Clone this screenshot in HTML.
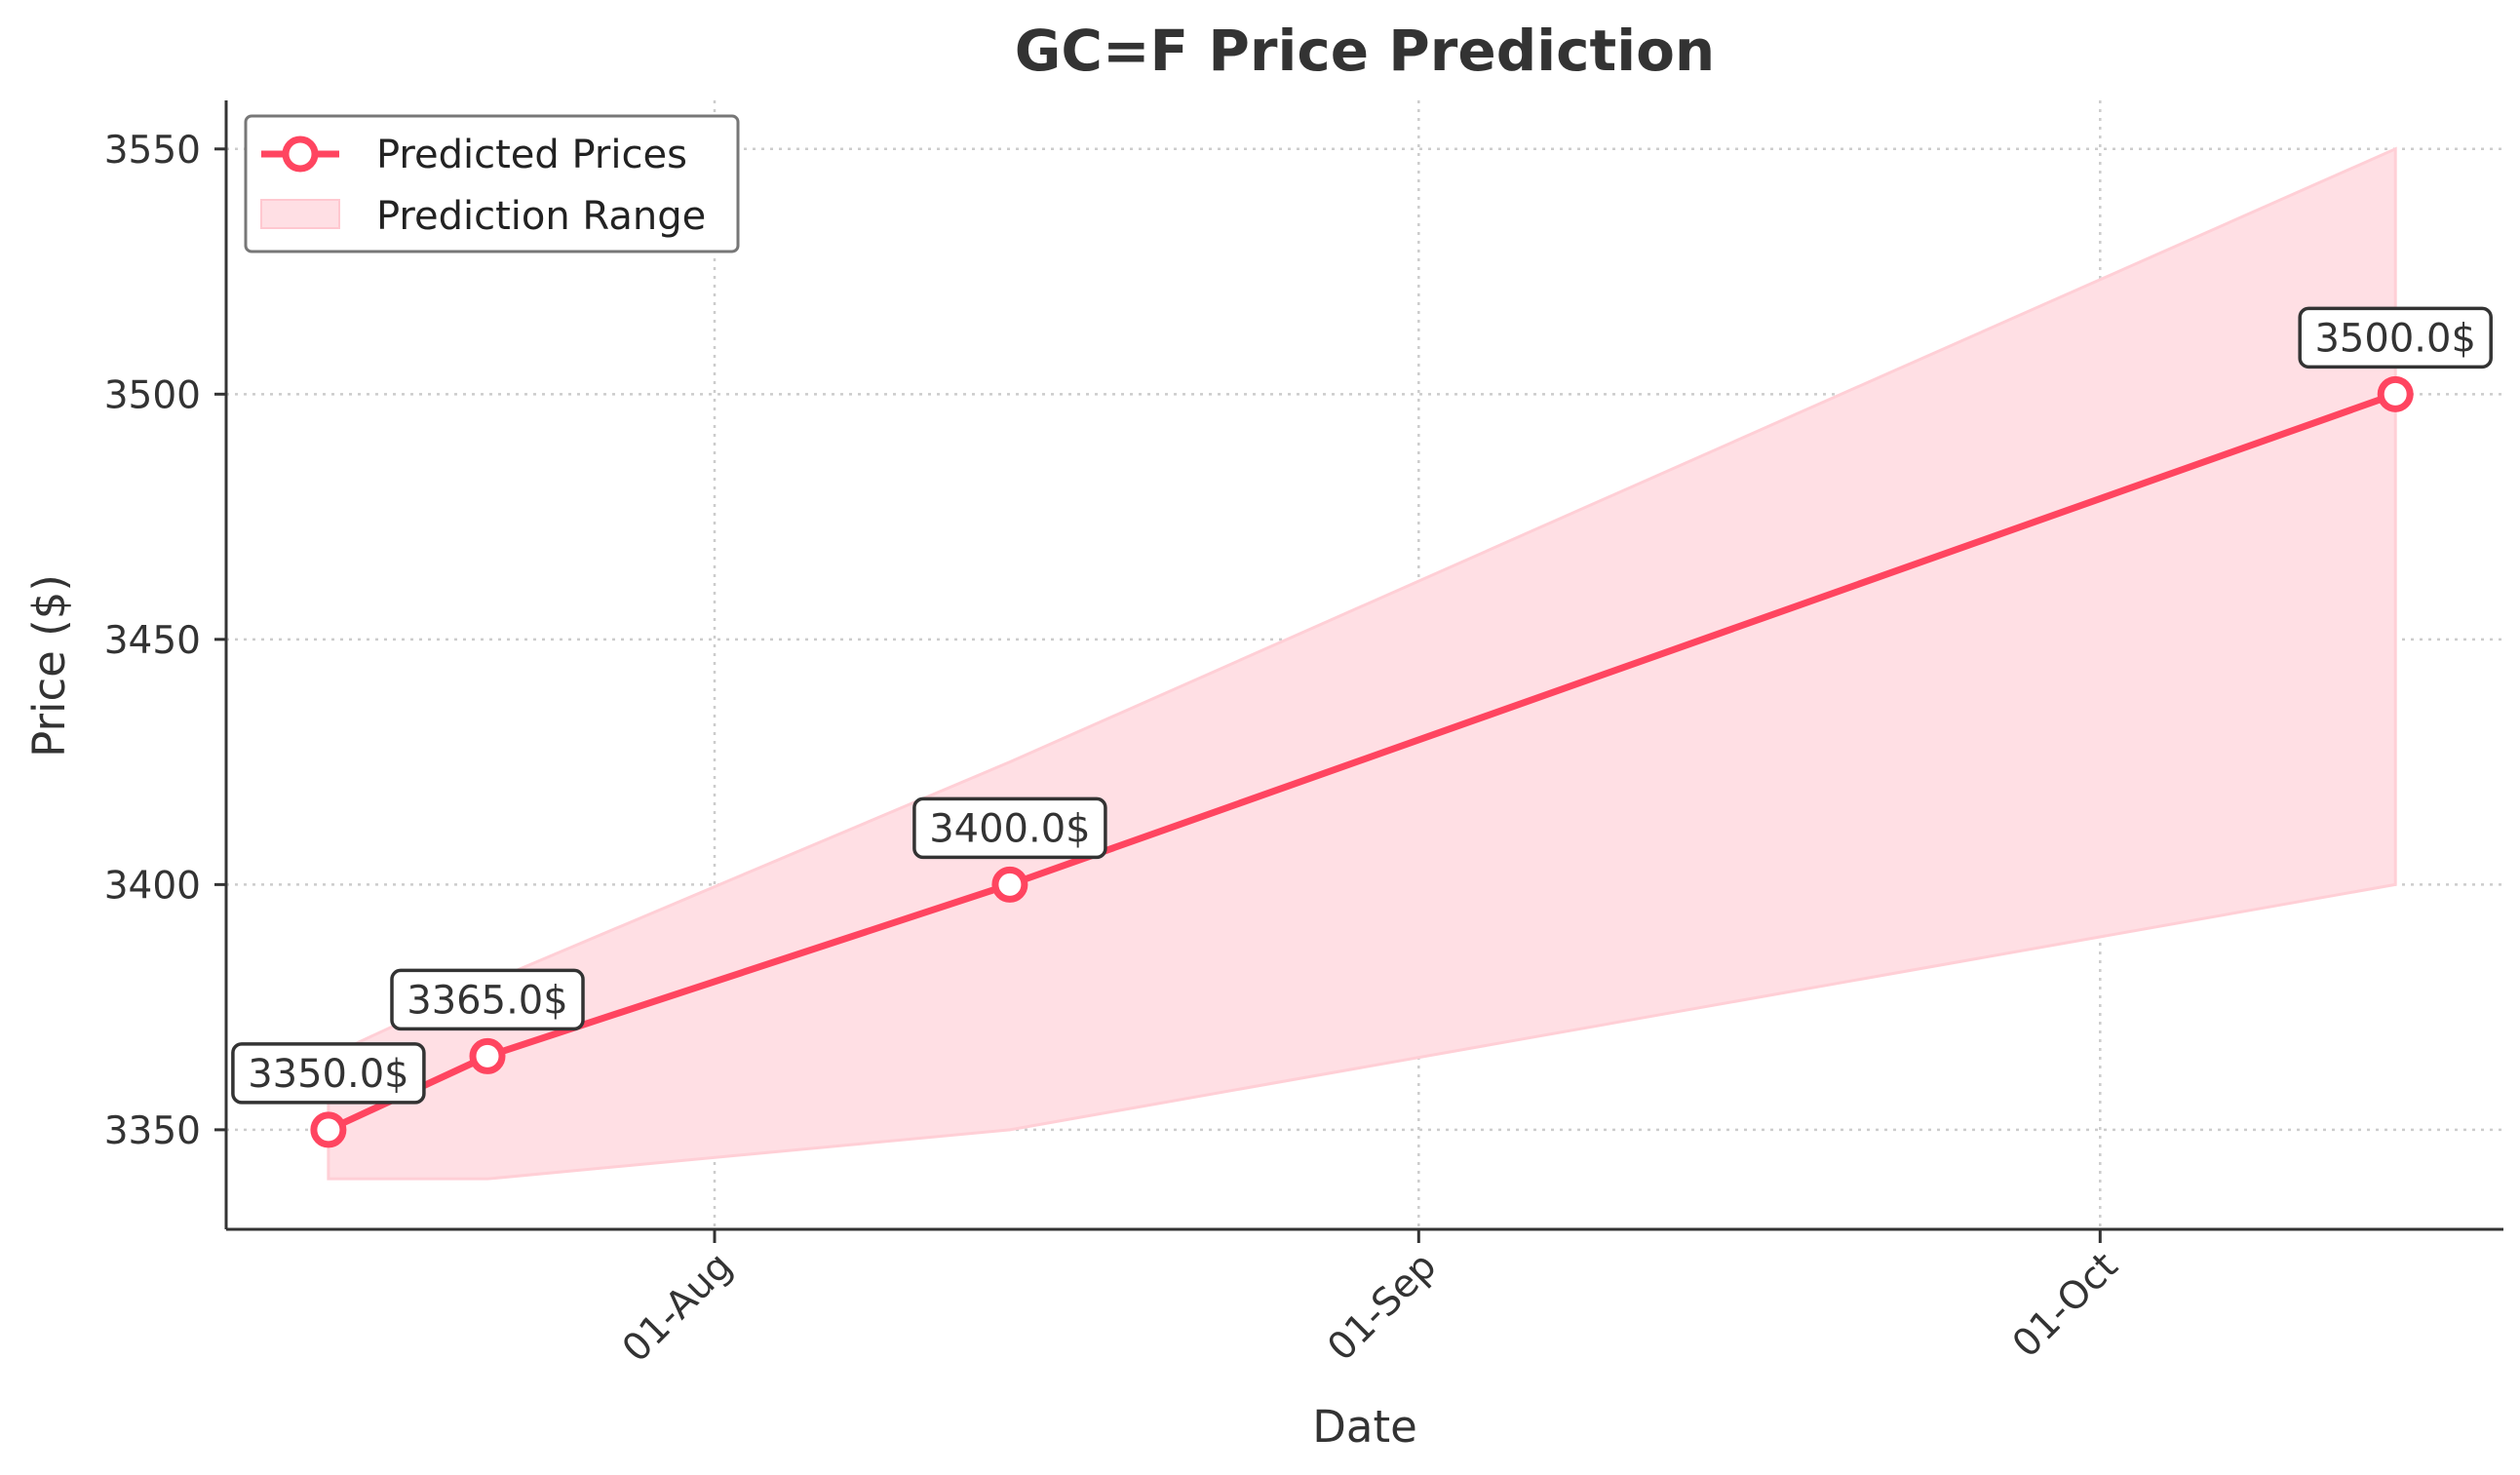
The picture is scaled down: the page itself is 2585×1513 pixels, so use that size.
<!DOCTYPE html>
<html><head><meta charset="utf-8"><style>
html,body{margin:0;padding:0;background:#fff;}
svg{display:block;font-family:"DejaVu Sans","Liberation Sans",sans-serif;}
</style></head><body>
<svg id="chart" width="2585" height="1513" viewBox="0 0 2585 1513" xmlns="http://www.w3.org/2000/svg">
<rect width="2585" height="1513" fill="#fff"/>
<text x="1400" y="72" text-anchor="middle" font-size="58" font-weight="bold" fill="#333">GC=F Price Prediction</text>
<g id="grid"></g>
<g id="band"></g>
<g id="line"></g>
<g id="axes"></g>
<g id="annots"></g>
<text transform="translate(66,683) rotate(-90)" text-anchor="middle" font-size="45" fill="#333">Price ($)</text>
<text x="1400" y="1479" text-anchor="middle" font-size="45" fill="#333">Date</text>
<g>
<rect x="252" y="119" width="505" height="139" rx="6" fill="#fff" stroke="#777" stroke-width="3"/>
<line x1="268" y1="158" x2="348" y2="158" stroke="#ff4560" stroke-width="7"/>
<circle cx="308" cy="158" r="15" fill="#fff" stroke="#ff4560" stroke-width="7"/>
<text x="386" y="172" font-size="40" fill="#222">Predicted Prices</text>
<rect x="268" y="205" width="80" height="29" fill="#ffdfe4" stroke="#ffc8d0" stroke-width="2"/>
<text x="386" y="235" font-size="40" fill="#222">Prediction Range</text>
</g>
</svg>
<script>
const dates = ["2025-07-15","2025-07-22","2025-08-14","2025-10-14"];
const prices = [3350, 3365, 3400, 3500];
const upper = [3365, 3380, 3425, 3550];
const lower = [3340, 3340, 3350, 3400];
const yTicks = [3350, 3400, 3450, 3500, 3550];
const xTickDates = ["2025-08-01","2025-09-01","2025-10-01"];
const xTickLabels = ["01-Aug","01-Sep","01-Oct"];

const NS="http://www.w3.org/2000/svg";
const L=232,R=2568,T=103,B=1261;
const yMin=3329.7,yMax=3559.9;
const x0=Date.parse("2025-08-01"),pxDay=23.3,xRef=733;
function xs(d){return xRef+(Date.parse(d)-x0)/86400000*pxDay;}
function ys(v){return B-(v-yMin)/(yMax-yMin)*(B-T);}
function mk(tag,attrs,parent){const e=document.createElementNS(NS,tag);for(const k in attrs)e.setAttribute(k,attrs[k]);parent.appendChild(e);return e;}
const grid=document.getElementById('grid'),band=document.getElementById('band'),line=document.getElementById('line'),axes=document.getElementById('axes'),ann=document.getElementById('annots');

yTicks.forEach(v=>{const y=ys(v);
 const g=mk('line',{x1:L,x2:R,y1:y,y2:y,stroke:'#ccc','stroke-width':2.5,'stroke-dasharray':'3,6'},grid);
 
 
 mk('line',{x1:L-12,x2:L,y1:y,y2:y,stroke:'#333','stroke-width':3},axes);
 const t=mk('text',{x:L-26,y:y+14,'text-anchor':'end','font-size':39,fill:'#333'},axes);t.textContent=v;
 
 
});
xTickDates.forEach((d,i)=>{const x=xs(d);
 const g=mk('line',{x1:x,x2:x,y1:T,y2:B,stroke:'#ccc','stroke-width':2.5,'stroke-dasharray':'3,6'},grid);
 
 
 mk('line',{x1:x,x2:x,y1:B,y2:B+14,stroke:'#333','stroke-width':3},axes);
 const t=mk('text',{transform:`translate(${x+20},${B+40}) rotate(-45)`,'text-anchor':'end','font-size':39,fill:'#333'},axes);t.textContent=xTickLabels[i];
 
 
});
mk('line',{x1:L,x2:L,y1:T,y2:B,stroke:'#333','stroke-width':3},axes);
mk('line',{x1:L,x2:R,y1:B,y2:B,stroke:'#333','stroke-width':3},axes);

let pts=dates.map((d,i)=>xs(d)+','+ys(upper[i]));
for(let i=dates.length-1;i>=0;i--)pts.push(xs(dates[i])+','+ys(lower[i]));
const poly=mk('polygon',{points:pts.join(' '),fill:'#ffdfe4',stroke:'#ffcfd6','stroke-width':3},band);



const pl=mk('polyline',{points:dates.map((d,i)=>xs(d)+','+ys(prices[i])).join(' '),fill:'none',stroke:'#ff4560','stroke-width':7},line);


dates.forEach((d,i)=>{const x=xs(d),y=ys(prices[i]);
 const c=mk('circle',{cx:x,cy:y,r:15,fill:'#fff',stroke:'#ff4560','stroke-width':7},line);
 
 
 const label=prices[i].toFixed(1)+'$';
 const w=196,h=60,cy=y-58;
 const b=mk('rect',{x:x-w/2,y:cy-h/2,width:w,height:h,rx:9,fill:'#fff',stroke:'#333','stroke-width':3.5},ann);
 
 
 const t=mk('text',{x:x,y:cy+14,'text-anchor':'middle','font-size':40,fill:'#333'},ann);t.textContent=label;
 
 
});
</script>
</body></html>
